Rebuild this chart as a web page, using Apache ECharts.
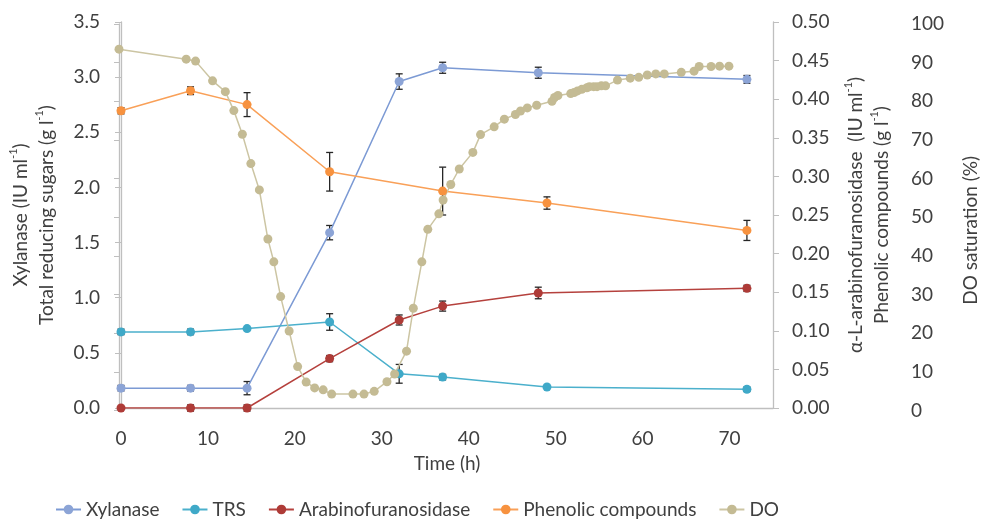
<!DOCTYPE html>
<html><head><meta charset="utf-8">
<script src="https://cdn.jsdelivr.net/npm/echarts@6/dist/echarts.min.js"></script>
<style>html,body{margin:0;padding:0;background:#fff}#c{width:988px;height:519px}</style>
</head><body><div id="c"></div>
<script>
// ---- data ----
const timeXylanase = [0, 8, 14.5, 24, 32, 37, 48, 72];
const xylanase     = [0.18, 0.18, 0.18, 1.59, 2.96, 3.085, 3.04, 2.98];
const xylanaseErr  = [0.025, 0.025, 0.06, 0.065, 0.07, 0.05, 0.05, 0.035];

const timeTRS = [0, 8, 14.5, 24, 32, 37, 49, 72];
const trs     = [0.69, 0.69, 0.72, 0.78, 0.31, 0.28, 0.19, 0.17];
const trsErr  = [0.025, 0.025, 0, 0.075, 0.085, 0.025, 0, 0.02];

const timeArab = [0, 8, 14.5, 24, 32, 37, 48, 72];
const arab     = [0, 0, 0, 0.064, 0.114, 0.132, 0.149, 0.155];
const arabErr  = [0, 0.004, 0.004, 0.004, 0.0065, 0.0065, 0.0075, 0.004];

const timePhen = [0, 8, 14.5, 24, 37, 49, 72];
const phenolic = [0.385, 0.411, 0.393, 0.306, 0.281, 0.2655, 0.23];
const phenErr  = [0.004, 0.005, 0.0155, 0.025, 0.031, 0.008, 0.013];

const timeDO = [0, 7.9, 9, 11, 12.5, 13.5, 14.5, 15.5, 16.5, 17.5, 18.2, 19, 20, 21, 22, 23, 24, 25,
  27.5, 28.8, 30, 31.5, 32.4, 33.8, 34.6, 35.6, 36.3, 37.6, 38.1, 39, 40, 41.6, 42.5, 44.1, 45.3,
  46.6, 47.2, 48, 49.1, 50.9, 51.2, 51.6, 53.1, 53.5, 53.9, 54.4, 55, 55.3, 55.8, 56.2, 56.7, 57.2,
  58.6, 60.1, 61.1, 62.1, 63.1, 64.1, 66.1, 67.6, 68.2, 69.6, 70.6, 71.7];
const dissolvedO2 = [93.5, 90.9, 90.4, 85.3, 82.5, 77.6, 71.5, 63.9, 57.1, 44.4, 38.5, 29.5, 20.6, 11.4, 7.4, 5.9, 5.4, 4.3,
  4.3, 4.3, 5.0, 7.5, 9.5, 15.4, 26.5, 38.5, 46.9, 50.9, 54.5, 58.5, 62.5, 66.8, 71.4, 73.4, 75.4,
  76.6, 77.5, 78.3, 79.0, 80.0, 81.0, 81.5, 82.0, 82.3, 82.7, 83.1, 83.5, 83.8, 83.8, 83.8, 84.0, 84.0,
  85.5, 86.0, 86.2, 86.8, 87.1, 87.1, 87.5, 87.8, 89.0, 89.0, 89.1, 89.1];

const legendNames = ['Xylanase', 'TRS', 'Arabinofuranosidase', 'Phenolic compounds', 'DO'];
const xTicks = [0, 10, 20, 30, 40, 50, 60, 70];

// ---- chart ----
const FONT = 'Lato';
const TXT = '#404040';
const AX = '#BFBFBF';
const FS = 19;
const chart = echarts.init(document.getElementById('c'));

const pairs = (xs, ys) => xs.map((x, i) => [x, ys[i]]);
const triples = (xs, ys, es) => xs.map((x, i) => [x, ys[i], es[i]]);

function errSeries(id, xs, ys, es, xi, yi) {
  return {
    type: 'custom', name: id, xAxisIndex: xi, yAxisIndex: yi, z: 3, clip: false,
    data: triples(xs, ys, es), encode: { x: 0, y: 1 },
    renderItem(params, api) {
      const x = api.value(0), y = api.value(1), e = api.value(2);
      if (!e) return null;
      const t = api.coord([x, y + e]), b = api.coord([x, y - e]);
      const w = 3.5, st = { stroke: '#262626', lineWidth: 1.3 };
      return { type: 'group', children: [
        { type: 'line', shape: { x1: t[0], y1: t[1], x2: b[0], y2: b[1] }, style: st },
        { type: 'line', shape: { x1: t[0] - w, y1: t[1], x2: t[0] + w, y2: t[1] }, style: st },
        { type: 'line', shape: { x1: b[0] - w, y1: b[1], x2: b[0] + w, y2: b[1] }, style: st }
      ] };
    }
  };
}
function lineSeries(name, xs, ys, color, lineColor, xi, yi, size) {
  return {
    type: 'line', name, xAxisIndex: xi, yAxisIndex: yi, z: 4,
    data: pairs(xs, ys), symbol: 'circle', symbolSize: size, showSymbol: true,
    itemStyle: { color }, lineStyle: { color: lineColor, width: 1.5 },
    emphasis: { disabled: true }, animation: false
  };
}

const rich = {
  t: { fontFamily: FONT, fontSize: FS, color: TXT, lineHeight: 26 },
  s: { fontFamily: FONT, fontSize: 11, color: TXT, lineHeight: 20, verticalAlign: 'top' }
};
const labelStyle = { fontFamily: FONT, fontSize: FS, color: TXT };

chart.setOption({
  animation: false,
  backgroundColor: '#fff',
  grid: [
    { left: 119, right: 215, top: 22, bottom: 111 },
    { left: 119, right: 215, top: 24, bottom: 108.3 }
  ],
  legend: {
    data: legendNames, left: 50, top: 495, itemGap: 22, itemWidth: 25, itemHeight: 12,
    textStyle: { fontFamily: FONT, fontSize: FS, color: TXT }
  },
  xAxis: [
    { type: 'value', gridIndex: 0, min: 0, max: 75, interval: 10,
      name: 'Time (h)', nameLocation: 'middle', nameGap: 46,
      nameTextStyle: labelStyle,
      axisLine: { lineStyle: { color: AX, width: 1.3 } }, axisTick: { show: false },
      splitLine: { show: false },
      axisLabel: { ...labelStyle, margin: 21, formatter: v => (xTicks.includes(v) ? String(v) : '') } },
    { type: 'value', gridIndex: 1, min: 0, max: 75, show: false }
  ],
  yAxis: [
    { type: 'value', gridIndex: 0, position: 'left', min: 0, max: 3.5, interval: 0.5,
      name: '{t|Xylanase (IU ml}{s|-1}{t|)}\n{t|Total reducing sugars (g l}{s|-1}{t|)}',
      nameLocation: 'middle', nameRotate: 90, nameGap: 61, nameTextStyle: { rich },
      axisLine: { show: true, lineStyle: { color: AX, width: 1.3 } },
      axisTick: { show: true, length: 6, lineStyle: { color: AX } },
      splitLine: { show: false },
      axisLabel: { ...labelStyle, margin: 21, formatter: v => v.toFixed(1) } },
    { type: 'value', gridIndex: 0, position: 'right', min: 0, max: 0.5, interval: 0.05,
      name: '{t|α-L-arabinofuranosidase  (IU ml}{s|-1}{t|)}\n{t|Phenolic compounds (g l}{s|-1}{t|)}',
      nameLocation: 'middle', nameRotate: 90, nameGap: 70, nameTextStyle: { rich },
      axisLine: { show: true, lineStyle: { color: AX, width: 1.3 } },
      axisTick: { show: true, length: 6, lineStyle: { color: AX } },
      splitLine: { show: false },
      axisLabel: { ...labelStyle, margin: 19, formatter: v => v.toFixed(2) } },
    { type: 'value', gridIndex: 1, position: 'right', offset: 136, min: 0, max: 100, interval: 10,
      name: 'DO saturation (%)', nameLocation: 'middle', nameRotate: 90, nameGap: 68,
      nameTextStyle: { ...labelStyle, padding: [0, 26, 0, 0] },
      axisLine: { show: true, lineStyle: { color: AX, width: 1.3 } },
      axisTick: { show: true, inside: true, length: 5, lineStyle: { color: AX } },
      splitLine: { show: false },
      axisLabel: { ...labelStyle, margin: 18 } }
  ],
  series: [
    lineSeries('Xylanase', timeXylanase, xylanase, '#8CA4D6', '#7C9AD4', 0, 0, 9),
    lineSeries('TRS', timeTRS, trs, '#3FA9C8', '#4BB0CC', 0, 0, 9),
    lineSeries('Arabinofuranosidase', timeArab, arab, '#AE3B37', '#B5413D', 0, 1, 9),
    lineSeries('Phenolic compounds', timePhen, phenolic, '#F7923F', '#F9A058', 0, 1, 9),
    errSeries('xylErr', timeXylanase, xylanase, xylanaseErr, 0, 0),
    errSeries('trsErr', timeTRS, trs, trsErr, 0, 0),
    errSeries('arabErr', timeArab, arab, arabErr, 0, 1),
    errSeries('phenErr', timePhen, phenolic, phenErr, 0, 1),
    lineSeries('DO', timeDO, dissolvedO2, '#C4BB94', '#CCC5A3', 1, 2, 9)
  ]
});
</script></body></html>
